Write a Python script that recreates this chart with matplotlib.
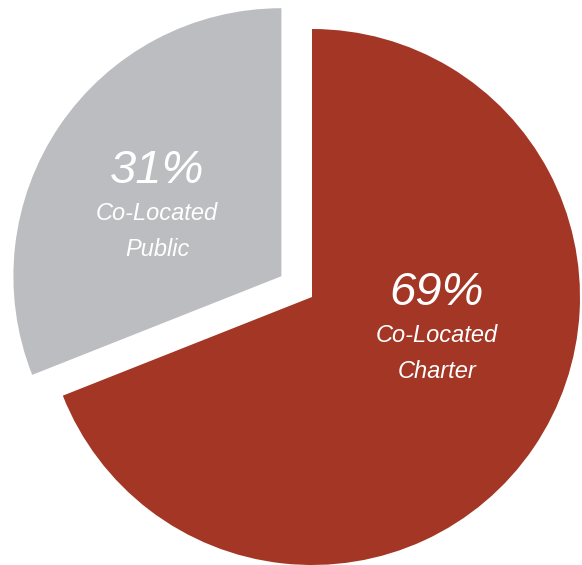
import matplotlib.pyplot as plt

# share of co-located schools
labels = ['Co-Located\nCharter', 'Co-Located\nPublic']
shares = [69, 31]
colors = ['#A33624', '#BCBDC0']
explode = [0, 37]

W, H = 582, 565
fig = plt.figure(figsize=(W / 100, H / 100), dpi=100)
ax = fig.add_axes([0, 0, 1, 1])

wedges, _ = ax.pie(shares, colors=colors, explode=explode, startangle=90,
                   counterclock=False, center=(312, H - 297), radius=268,
                   wedgeprops=dict(linewidth=0))
ax.set_xlim(0, W)
ax.set_ylim(0, H)
ax.set_aspect('equal')
ax.axis('off')

font = dict(family=['Liberation Sans', 'DejaVu Sans'], style='italic',
            color='white', ha='center', va='center')
# label anchors (pixels from the top left)
label_pos = [(437, 293), (157, 171)]
for (x, y), pct, name in zip(label_pos, shares, labels):
    ax.text(x, H - y, f'{pct}%', fontsize=34, **font)
    for i, line in enumerate(name.split('\n')):
        ax.text(x, H - y - 43 - i * 35, line, fontsize=17, **font)

fig.savefig('out.png', dpi=100)
